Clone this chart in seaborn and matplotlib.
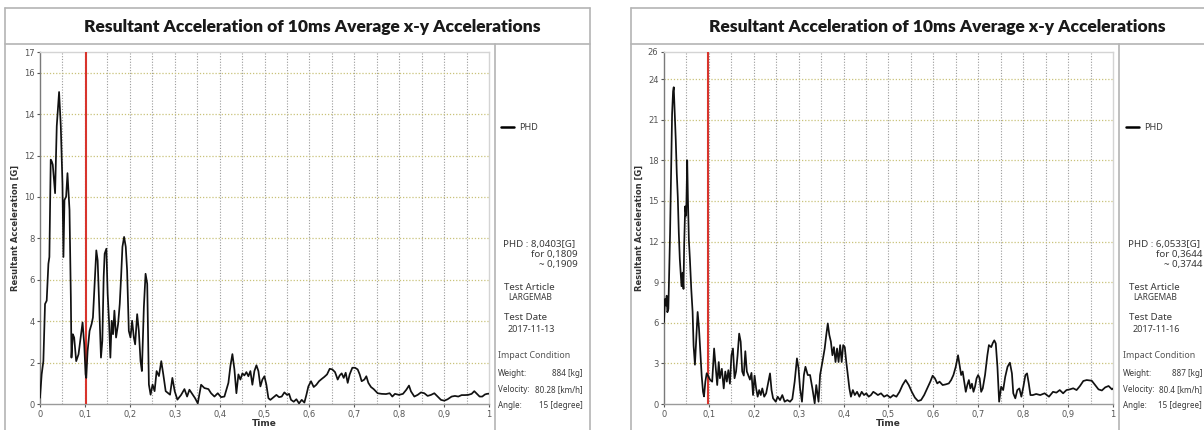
import numpy as np
import pandas as pd
import matplotlib
matplotlib.use("Agg")
import matplotlib.pyplot as plt
from matplotlib import font_manager
import seaborn as sns

# ---------------- data ----------------
title_text = "Resultant Acceleration of 10ms Average x-y Accelerations"
x_label = "Time"
y_label = "Resultant Acceleration [G]"
series_name = "PHD"

time_1 = [0.0, 0.0037, 0.0075, 0.0112, 0.0149, 0.0187, 0.0209, 0.0239, 0.0261, 0.0284,
          0.0336, 0.0373, 0.0425, 0.0463, 0.0500, 0.0522, 0.0545, 0.0582, 0.0612, 0.0657,
          0.0687, 0.0701, 0.0731, 0.0761, 0.0806, 0.0858, 0.0896, 0.0948, 0.0985, 0.1015,
          0.1030, 0.1060, 0.1104, 0.1149, 0.1179, 0.1216, 0.1254, 0.1284, 0.1321, 0.1358,
          0.1388, 0.1418, 0.1440, 0.1478, 0.1507, 0.1537, 0.1567, 0.1597, 0.1627, 0.1657,
          0.1694, 0.1739, 0.1776, 0.1806, 0.1836, 0.1873, 0.1910, 0.1940, 0.1978, 0.2015,
          0.2052, 0.2090, 0.2119, 0.2164, 0.2201, 0.2239, 0.2269, 0.2313, 0.2351, 0.2388,
          0.2425, 0.2463, 0.2507, 0.2552, 0.2597, 0.2649, 0.2701, 0.2746, 0.2799, 0.2851,
          0.2896, 0.2948, 0.3000, 0.3060, 0.3143, 0.3217, 0.3276, 0.3328, 0.3380, 0.3454,
          0.3514, 0.3588, 0.3662, 0.3751, 0.3810, 0.3885, 0.3959, 0.4033, 0.4107, 0.4196,
          0.4241, 0.4285, 0.4330, 0.4374, 0.4419, 0.4463, 0.4508, 0.4552, 0.4597, 0.4641,
          0.4686, 0.4730, 0.4775, 0.4820, 0.4864, 0.4909, 0.4953, 0.4998, 0.5042, 0.5087,
          0.5131, 0.5205, 0.5265, 0.5324, 0.5383, 0.5443, 0.5502, 0.5547, 0.5591, 0.5651,
          0.5710, 0.5769, 0.5829, 0.5888, 0.5933, 0.5977, 0.6036, 0.6096, 0.6155, 0.6214,
          0.6274, 0.6333, 0.6393, 0.6452, 0.6511, 0.6571, 0.6630, 0.6675, 0.6719, 0.6764,
          0.6808, 0.6853, 0.6897, 0.6956, 0.7016, 0.7075, 0.7120, 0.7164, 0.7224, 0.7268,
          0.7313, 0.7372, 0.7431, 0.7520, 0.7609, 0.7706, 0.7788, 0.7847, 0.7906, 0.7995,
          0.8084, 0.8159, 0.8218, 0.8262, 0.8337, 0.8411, 0.8485, 0.8559, 0.8633, 0.8708,
          0.8782, 0.8856, 0.8930, 0.9004, 0.9079, 0.9168, 0.9242, 0.9316, 0.9390, 0.9464,
          0.9538, 0.9613, 0.9672, 0.9731, 0.9791, 0.9850, 0.9909, 0.9954, 1.0]
accel_1 = [0.30, 1.43, 2.07, 4.83, 4.99, 6.77, 7.10, 11.80, 11.72, 11.56,
           10.18, 13.42, 15.07, 13.42, 10.66, 7.10, 9.85, 10.02, 11.15, 9.37,
           5.15, 2.24, 3.37, 3.21, 2.07, 2.40, 3.05, 3.94, 2.88, 1.43,
           1.26, 2.56, 3.53, 3.86, 4.18, 5.80, 7.42, 6.94, 4.51, 2.24,
           3.05, 6.13, 7.26, 7.50, 5.32, 4.02, 2.24, 4.02, 3.37, 4.51,
           3.21, 3.86, 4.83, 6.13, 7.59, 8.07, 7.59, 6.45, 3.53, 3.21,
           4.02, 3.21, 2.88, 4.34, 3.53, 2.07, 1.59, 4.67, 6.29, 5.80,
           0.94, 0.45, 0.94, 0.62, 1.59, 1.35, 2.07, 1.43, 0.62, 0.53,
           0.45, 1.26, 0.62, 0.21, 0.44, 0.72, 0.36, 0.69, 0.52, 0.28,
           0.03, 0.93, 0.77, 0.72, 0.52, 0.36, 0.52, 0.33, 0.36, 1.02,
           1.84, 2.41, 1.67, 0.52, 1.43, 1.18, 1.48, 1.38, 1.54, 1.34,
           1.59, 0.93, 1.59, 1.87, 1.59, 0.85, 1.18, 1.34, 0.93, 0.28,
           0.20, 0.33, 0.44, 0.33, 0.36, 0.56, 0.44, 0.49, 0.20, 0.11,
           0.23, 0.03, 0.20, 0.07, 0.44, 0.85, 1.10, 0.82, 0.93, 1.10,
           1.21, 1.31, 1.43, 1.70, 1.67, 1.54, 1.18, 1.38, 1.48, 1.26,
           1.51, 1.02, 1.43, 1.75, 1.75, 1.67, 1.43, 1.10, 1.18, 1.34,
           1.02, 0.82, 0.72, 0.52, 0.49, 0.48, 0.52, 0.36, 0.49, 0.44,
           0.49, 0.69, 0.89, 0.61, 0.36, 0.44, 0.56, 0.52, 0.39, 0.44,
           0.52, 0.36, 0.20, 0.16, 0.23, 0.36, 0.39, 0.36, 0.43, 0.43,
           0.44, 0.49, 0.62, 0.49, 0.36, 0.36, 0.46, 0.49, 0.50]

time_2 = [0.0, 0.0022, 0.0045, 0.0060, 0.0075, 0.0097, 0.0112, 0.0135, 0.0157, 0.0180,
          0.0202, 0.0217, 0.0240, 0.0262, 0.0285, 0.0307, 0.0330, 0.0352, 0.0375, 0.0390,
          0.0412, 0.0434, 0.0449, 0.0472, 0.0494, 0.0517, 0.0532, 0.0554, 0.0577, 0.0607,
          0.0637, 0.0659, 0.0689, 0.0719, 0.0749, 0.0779, 0.0809, 0.0839, 0.0869, 0.0891,
          0.0921, 0.0951, 0.1030, 0.1073, 0.1116, 0.1159, 0.1185, 0.1219, 0.1245, 0.1288,
          0.1330, 0.1365, 0.1399, 0.1433, 0.1468, 0.1502, 0.1536, 0.1571, 0.1605, 0.1639,
          0.1674, 0.1708, 0.1742, 0.1777, 0.1811, 0.1845, 0.1880, 0.1914, 0.1948, 0.1983,
          0.2017, 0.2052, 0.2086, 0.2120, 0.2155, 0.2189, 0.2232, 0.2275, 0.2318, 0.2361,
          0.2395, 0.2429, 0.2489, 0.2532, 0.2584, 0.2635, 0.2687, 0.2747, 0.2807, 0.2858,
          0.2910, 0.2961, 0.2996, 0.3030, 0.3073, 0.3116, 0.3150, 0.3202, 0.3253, 0.3305,
          0.3356, 0.3391, 0.3442, 0.3476, 0.3528, 0.3579, 0.3614, 0.3648, 0.3682, 0.3717,
          0.3751, 0.3785, 0.3820, 0.3854, 0.3888, 0.3923, 0.3957, 0.3991, 0.4026, 0.4060,
          0.4094, 0.4129, 0.4163, 0.4206, 0.4249, 0.4300, 0.4352, 0.4403, 0.4455, 0.4506,
          0.4558, 0.4609, 0.4661, 0.4712, 0.4764, 0.4833, 0.4901, 0.4970, 0.5039, 0.5107,
          0.5176, 0.5245, 0.5313, 0.5382, 0.5451, 0.5519, 0.5588, 0.5657, 0.5725, 0.5794,
          0.5863, 0.5931, 0.5983, 0.6034, 0.6086, 0.6137, 0.6206, 0.6275, 0.6343, 0.6395,
          0.6446, 0.6498, 0.6549, 0.6584, 0.6618, 0.6652, 0.6687, 0.6721, 0.6755, 0.6790,
          0.6824, 0.6858, 0.6893, 0.6927, 0.6961, 0.6996, 0.7030, 0.7064, 0.7099, 0.7150,
          0.7202, 0.7236, 0.7288, 0.7322, 0.7356, 0.7389, 0.7426, 0.7464, 0.7509, 0.7554,
          0.7599, 0.7651, 0.7704, 0.7749, 0.7779, 0.7824, 0.7869, 0.7914, 0.7959, 0.8004,
          0.8049, 0.8086, 0.8124, 0.8161, 0.8214, 0.8289, 0.8379, 0.8476, 0.8574, 0.8664,
          0.8739, 0.8814, 0.8889, 0.8964, 0.9039, 0.9114, 0.9189, 0.9264, 0.9339, 0.9414,
          0.9527, 0.9602, 0.9677, 0.9752, 0.9827, 0.9902, 0.9977, 1.0]
accel_2 = [6.05, 7.76, 7.27, 8.00, 6.78, 7.02, 9.20, 12.60, 16.80, 21.40,
           23.10, 23.40, 21.40, 19.50, 17.00, 15.30, 12.60, 10.70, 9.50, 8.70,
           9.70, 8.50, 11.70, 14.60, 13.90, 18.00, 15.30, 12.10, 10.70, 8.50,
           6.80, 4.30, 2.90, 4.80, 6.80, 5.60, 3.90, 2.10, 0.90, 0.56,
           1.66, 2.27, 1.77, 1.65, 4.10, 2.40, 1.40, 3.10, 1.90, 2.60,
           1.15, 2.40, 1.65, 2.50, 1.50, 3.60, 4.10, 1.90, 2.40, 3.60,
           5.20, 4.60, 2.40, 2.10, 3.90, 2.40, 2.10, 1.80, 2.30, 0.66,
           2.10, 1.15, 0.54, 1.03, 0.66, 1.15, 0.54, 0.79, 1.52, 2.26,
           1.03, 0.42, 0.17, 0.54, 0.29, 0.66, 0.17, 0.29, 0.17, 0.37,
           1.65, 3.37, 2.63, 1.15, 0.17, 2.14, 2.75, 2.14, 2.14, 1.15,
           0.05, 1.40, 0.17, 2.14, 3.10, 4.10, 5.10, 5.95, 5.10, 4.60,
           3.60, 4.20, 3.10, 4.10, 3.10, 4.35, 3.10, 4.35, 4.20, 3.10,
           2.14, 1.15, 0.54, 1.03, 0.66, 0.90, 0.54, 0.90, 0.66, 0.79,
           0.54, 0.66, 0.90, 0.79, 0.66, 0.79, 0.54, 0.66, 0.47, 0.66,
           0.54, 0.90, 1.40, 1.77, 1.40, 0.90, 0.47, 0.22, 0.29, 0.66,
           1.15, 1.65, 2.09, 1.89, 1.52, 1.65, 1.40, 1.45, 1.52, 1.77,
           2.14, 2.75, 3.60, 2.87, 2.14, 2.40, 1.65, 0.90, 1.40, 1.77,
           1.15, 1.50, 0.90, 1.28, 1.89, 2.14, 1.90, 0.90, 1.15, 2.14,
           3.60, 4.35, 4.20, 4.50, 4.70, 4.47, 2.75, 0.17, 1.28, 1.03,
           2.00, 2.75, 3.05, 2.26, 0.79, 0.42, 1.03, 1.15, 0.54, 1.28,
           2.14, 2.26, 1.52, 0.66, 0.66, 0.74, 0.66, 0.79, 0.54, 0.90,
           0.84, 1.03, 0.79, 1.03, 1.08, 1.16, 1.03, 1.33, 1.70, 1.77,
           1.72, 1.40, 1.08, 1.00, 1.23, 1.33, 1.08, 1.15]

red_line_t = [0.103, 0.099]

x_ticks = [0, 0.1, 0.2, 0.3, 0.4, 0.5, 0.6, 0.7, 0.8, 0.9, 1.0]
x_tick_labels = ["0", "0,1", "0,2", "0,3", "0,4", "0,5", "0,6", "0,7", "0,8", "0,9", "1"]
y_ticks_1 = [0, 2, 4, 6, 8, 10, 12, 14, 16, 17]
y_ticks_2 = [0, 3, 6, 9, 12, 15, 18, 21, 24, 26]

phd_values = ["8,0403", "6,0533"]
phd_from = ["0,1809", "0,3644"]
phd_to = ["0,1909", "0,3744"]
test_article = ["LARGEMAB", "LARGEMAB"]
test_date = ["2017-11-13", "2017-11-16"]
weight = ["884 [kg]", "887 [kg]"]
velocity = ["80.28 [km/h]", "80.4 [km/h]"]
angle = ["15 [degree]", "15 [degree]"]

# ---------------- style ----------------
sns.set_style("white")
names = {f.name for f in font_manager.fontManager.ttflist}
narrow = "Liberation Sans Narrow" if "Liberation Sans Narrow" in names else "DejaVu Sans"
plt.rcParams["font.family"] = ["Noto Sans", "DejaVu Sans"]

W, H = 1204, 430
fig = plt.figure(figsize=(W / 100, H / 100), dpi=100)
fig.patch.set_facecolor("white")

bg = fig.add_axes([0, 0, 1, 1], zorder=0)
bg.set_xlim(0, W)
bg.set_ylim(H, 0)
bg.axis("off")

frame_c = "#b4b4b4"
panels = [(5, 590, 495, 312), (631, 1215, 1119, 937)]
for (x0, x1, xd, xc) in panels:
    bg.plot([x0, x1], [8, 8], color=frame_c, lw=1.2)
    bg.plot([x0, x1], [44, 44], color=frame_c, lw=1.2)
    bg.plot([x0, x0], [8, 435], color=frame_c, lw=1.2)
    bg.plot([x1, x1], [8, 435], color=frame_c, lw=1.2)
    bg.plot([xd, xd], [44, 435], color=frame_c, lw=1.2)
    bg.text(xc, 27, title_text, ha="center", va="center", fontsize=12.5,
            fontweight="heavy", color="#1a1a1a", family=["Lato", "DejaVu Sans"])

series = [(time_1, accel_1, y_ticks_1), (time_2, accel_2, y_ticks_2)]
ax_left = [40, 664]
for i, (tt, aa, yt) in enumerate(series):
    ax = fig.add_axes([ax_left[i] / W, (H - 404) / H, 449 / W, 352 / H], zorder=2)
    ax.patch.set_alpha(0)
    df = pd.DataFrame({"t": tt, "a": aa})
    ax.axvline(red_line_t[i], color="#d8342c", lw=1.5, zorder=3)
    sns.lineplot(data=df, x="t", y="a", ax=ax, color="#111111", lw=1.25,
                 estimator=None, sort=False, legend=False, zorder=4)
    ax.set_xlim(0, 1)
    ax.set_ylim(0, yt[-1])
    ax.set_xticks(x_ticks)
    ax.set_xticklabels(x_tick_labels, family=narrow)
    ax.set_xticks([v + 0.05 for v in x_ticks[:-1]], minor=True)
    ax.set_yticks(yt)
    ax.set_yticklabels([str(v) for v in yt], family=narrow)
    ax.tick_params(axis="both", which="major", labelsize=6, colors="#555555",
                   length=2.5, width=0.8, pad=1.5, left=True, bottom=True)
    ax.tick_params(axis="both", which="minor", length=0)
    for v in x_ticks[1:-1] + [v + 0.05 for v in x_ticks[:-1]]:
        ax.axvline(v, color="#9a9a9a", lw=0.8, ls=(0, (1, 1.5)), zorder=1)
    for v in yt[1:-1]:
        ax.axhline(v, color="#c9c27a", lw=0.9, ls=(0, (1, 1.5)), zorder=1)
    ax.spines["left"].set_color("#7a7a7a")
    ax.spines["bottom"].set_color("#9a9a9a")
    ax.spines["top"].set_color("#d4d4d4")
    ax.spines["right"].set_color("#d4d4d4")
    for s in ax.spines.values():
        s.set_linewidth(1.0)
    ax.set_xlabel(x_label, fontsize=6.5, fontweight="bold", labelpad=0, color="#333333",
                  family=narrow)
    ax.set_ylabel(y_label, fontsize=6, fontweight="bold", labelpad=3, color="#333333",
                  family=narrow)

# info panels
info_x = [498, 1123]
val_right = [583, 1202]
txt_c = "#3a3a3a"
for i, x in enumerate(info_x):
    bg.plot([x + 3, x + 16], [127, 127], color="black", lw=1.8)
    bg.text(x + 21, 127, series_name, fontsize=6.5, va="center", color=txt_c)
    bg.text(x + 5, 244, f"PHD : {phd_values[i]}[G]", fontsize=7, va="center", color=txt_c)
    bg.text(x + 80, 254.5, f"for {phd_from[i]}", fontsize=7, va="center", ha="right", color=txt_c)
    bg.text(x + 80, 265, f"~ {phd_to[i]}", fontsize=7, va="center", ha="right", color=txt_c)
    bg.text(x + 6, 287, "Test Article", fontsize=7, va="center", color=txt_c)
    bg.text(x + 10, 297.5, test_article[i], fontsize=6, va="center", color=txt_c)
    bg.text(x + 6, 318, "Test Date", fontsize=7, va="center", color=txt_c)
    bg.text(x + 10, 329, test_date[i], fontsize=6.5, va="center", fontweight="bold", color=txt_c)
    bg.text(x, 355.5, "Impact Condition", fontsize=6.4, va="center", color="#555555",
            fontweight="semibold")
    bg.text(x, 373, "Weight:", fontsize=5.8, va="center", color=txt_c)
    bg.text(val_right[i], 373, weight[i], fontsize=5.8, va="center", ha="right", color=txt_c)
    bg.text(x, 389.5, "Velocity:", fontsize=5.8, va="center", color=txt_c)
    bg.text(val_right[i], 389.5, velocity[i], fontsize=5.8, va="center", ha="right", color=txt_c)
    bg.text(x, 406, "Angle:", fontsize=5.8, va="center", color=txt_c)
    bg.text(val_right[i], 406, angle[i], fontsize=5.8, va="center", ha="right", color=txt_c)

fig.savefig("out.png", dpi=100, facecolor="white")
